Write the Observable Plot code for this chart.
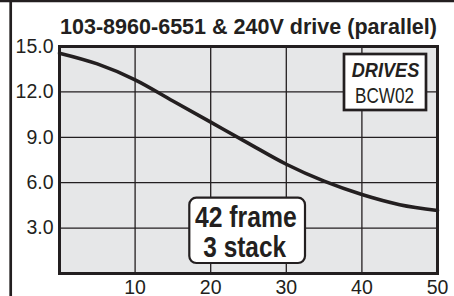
<!DOCTYPE html>
<html><head><meta charset="utf-8">
<script src="https://cdn.jsdelivr.net/npm/d3@7"></script>
<script src="https://cdn.jsdelivr.net/npm/@observablehq/plot@0.6"></script>
<style>
html,body{margin:0;padding:0;background:#fff;}
#wrap{position:relative;width:454px;height:296px;overflow:hidden;}
</style></head><body><div id="wrap"></div>
<script>
const speeds = [0, 5, 10, 15, 20, 25, 30, 35, 40, 45, 50];
const torque = [14.56, 13.85, 12.8, 11.4, 10.0, 8.6, 7.22, 6.1, 5.22, 4.55, 4.16];
const xTicks = [10, 20, 30, 40, 50];
const yTicks = [3, 6, 9, 12, 15];
const titleText = "103-8960-6551 & 240V drive (parallel)";
const driveLines = ["DRIVES", "BCW02"];
const motorLines = ["42 frame", "3 stack"];

const data = speeds.map((s, i) => ({speed: s, torque: torque[i]}));
const ink = "#231f20";
const font = "'Liberation Sans', Arial, Helvetica, sans-serif";

const plot = Plot.plot({
  width: 454, height: 296,
  marginLeft: 59, marginRight: 17, marginTop: 46, marginBottom: 23,
  style: {fontFamily: font, fontSize: "19.5px", color: ink, background: "transparent", overflow: "visible"},
  x: {domain: [0, 50], ticks: xTicks, tickSize: 0, tickPadding: 7, label: null, tickFormat: d => String(d)},
  y: {domain: [0, 15], ticks: yTicks, tickSize: 0, tickPadding: 6, label: null, tickFormat: d => d.toFixed(1)},
  marks: [
    Plot.frame({fill: "#e6e7e8", stroke: null}),
    Plot.gridX(xTicks, {stroke: ink, strokeOpacity: 1, strokeWidth: 1.3}),
    Plot.gridY(yTicks, {stroke: ink, strokeOpacity: 1, strokeWidth: 1.3}),
    Plot.line(data, {x: "speed", y: "torque", curve: "monotone-x", stroke: ink, strokeWidth: 3.6}),
    Plot.frame({stroke: ink, strokeWidth: 3})
  ]
});
document.getElementById("wrap").appendChild(plot);

const svg = d3.select(plot);
// decorative outer frame (top and left edges)
svg.append("line").attr("x1", 0).attr("x2", 454).attr("y1", 1).attr("y2", 1).attr("stroke", ink).attr("stroke-width", 2.6);
svg.append("line").attr("x1", 10.7).attr("x2", 10.7).attr("y1", 0).attr("y2", 296).attr("stroke", ink).attr("stroke-width", 2.7);

function addText(t, x, y, size, weight, style, len) {
  svg.append("text").text(t)
    .attr("x", x).attr("y", y)
    .attr("text-anchor", "middle")
    .attr("font-family", font)
    .attr("font-size", size)
    .attr("font-weight", weight)
    .attr("font-style", style)
    .attr("fill", ink)
    .attr("textLength", len)
    .attr("lengthAdjust", "spacingAndGlyphs");
}

// title
addText(titleText, 248.5, 34, 22, "bold", "normal", 377);

// drives legend box
svg.append("rect").attr("x", 344).attr("y", 54).attr("width", 82).attr("height", 56)
  .attr("fill", "#fff").attr("stroke", ink).attr("stroke-width", 2.7);
addText(driveLines[0], 385.5, 76.7, 19.5, "bold", "italic", 67.6);
addText(driveLines[1], 384.5, 102.7, 22, "normal", "normal", 59);

// motor box
svg.append("rect").attr("x", 189.3).attr("y", 197.7).attr("width", 115.7).attr("height", 65.3)
  .attr("rx", 7).attr("ry", 7)
  .attr("fill", "#fff").attr("stroke", ink).attr("stroke-width", 2.2);
addText(motorLines[0], 245.8, 226.7, 29, "bold", "normal", 101.7);
addText(motorLines[1], 244.7, 256.7, 29, "bold", "normal", 82.7);
</script>
</body></html>
